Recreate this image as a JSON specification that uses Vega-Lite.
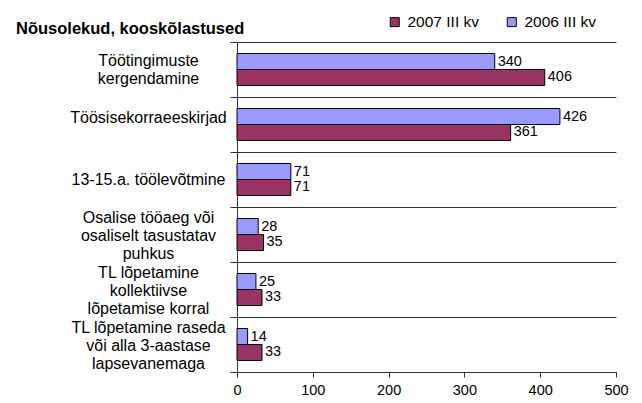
{
  "$schema": "https://vega.github.io/schema/vega-lite/v6.json",
  "autosize": {"type": "none"},
  "width": 379,
  "height": 330,
  "padding": {"left": 237, "top": 42, "right": 26, "bottom": 31},
  "background": "white",
  "config": {
    "font": "Liberation Sans",
    "view": {"stroke": null}
  },
  "title": {
    "text": "Nõusolekud, kooskõlastused",
    "anchor": "start",
    "frame": "group",
    "dx": -221,
    "offset": -36,
    "baseline": "alphabetic",
    "fontSize": 16.5,
    "fontWeight": "bold",
    "color": "black",
    "font": "Liberation Sans"
  },
  "data": {
    "values": [
      {"cat": "Töötingimuste|kergendamine", "series": "2006 III kv", "value": 340},
      {"cat": "Töötingimuste|kergendamine", "series": "2007 III kv", "value": 406},
      {"cat": "Töösisekorraeeskirjad", "series": "2006 III kv", "value": 426},
      {"cat": "Töösisekorraeeskirjad", "series": "2007 III kv", "value": 361},
      {"cat": "13-15.a. töölevõtmine", "series": "2006 III kv", "value": 71},
      {"cat": "13-15.a. töölevõtmine", "series": "2007 III kv", "value": 71},
      {"cat": "Osalise tööaeg või|osaliselt tasustatav|puhkus", "series": "2006 III kv", "value": 28},
      {"cat": "Osalise tööaeg või|osaliselt tasustatav|puhkus", "series": "2007 III kv", "value": 35},
      {"cat": "TL lõpetamine|kollektiivse|lõpetamise korral", "series": "2006 III kv", "value": 25},
      {"cat": "TL lõpetamine|kollektiivse|lõpetamise korral", "series": "2007 III kv", "value": 33},
      {"cat": "TL lõpetamine raseda|või alla 3-aastase|lapsevanemaga", "series": "2006 III kv", "value": 14},
      {"cat": "TL lõpetamine raseda|või alla 3-aastase|lapsevanemaga", "series": "2007 III kv", "value": 33}
    ]
  },
  "encoding": {
    "y": {
      "field": "cat",
      "type": "nominal",
      "sort": null,
      "scale": {"paddingInner": 0, "paddingOuter": 0},
      "axis": {
        "title": null,
        "labelExpr": "split(datum.label, '|')",
        "labelAlign": "center",
        "labelBaseline": "middle",
        "labelPadding": 82,
        "labelFontSize": 16,
        "labelLineHeight": 18,
        "labelOffset": {
          "condition": [
            {"test": "length(split(datum.value, '|')) == 3", "value": -17},
            {"test": "length(split(datum.value, '|')) == 2", "value": -9},
            {"test": "datum.value == 'Töösisekorraeeskirjad'", "value": -7}
          ],
          "value": 0
        },
        "labelColor": "black",
        "labelLimit": 300,
        "tickBand": "extent",
        "tickSize": 7,
        "tickColor": "#333",
        "domainColor": "#333",
        "grid": true,
        "gridColor": "#333",
        "gridOpacity": 1
      }
    },
    "yOffset": {
      "field": "series",
      "type": "nominal",
      "sort": ["2006 III kv", "2007 III kv"],
      "scale": {"paddingInner": 0, "paddingOuter": 0.72}
    },
    "x": {
      "field": "value",
      "type": "quantitative",
      "scale": {"domain": [0, 500], "nice": false},
      "axis": {
        "title": null,
        "values": [0, 100, 200, 300, 400, 500],
        "grid": false,
        "tickSize": 5,
        "tickColor": "#333",
        "domainColor": "#333",
        "labelFontSize": 14.5,
        "labelColor": "black",
        "labelPadding": 6,
        "labelFlush": false
      }
    }
  },
  "layer": [
    {
      "mark": {"type": "bar", "stroke": "black", "strokeWidth": 1},
      "encoding": {
        "color": {
          "field": "series",
          "type": "nominal",
          "scale": {"domain": ["2007 III kv", "2006 III kv"], "range": ["#993366", "#9999FF"]},
          "legend": {
            "title": null,
            "orient": "none",
            "direction": "horizontal",
            "legendX": 150,
            "legendY": -28,
            "symbolType": "square",
            "symbolSize": 81,
            "symbolStrokeColor": "black",
            "symbolStrokeWidth": 1,
            "symbolOpacity": 1,
            "labelFontSize": 15.5,
            "labelColor": "black",
            "labelOffset": 5,
            "columnPadding": 24
          }
        }
      }
    },
    {
      "mark": {"type": "text", "align": "left", "baseline": "middle", "dx": 3, "fontSize": 14.5, "color": "black"},
      "encoding": {
        "text": {"field": "value", "type": "quantitative"}
      }
    }
  ]
}
